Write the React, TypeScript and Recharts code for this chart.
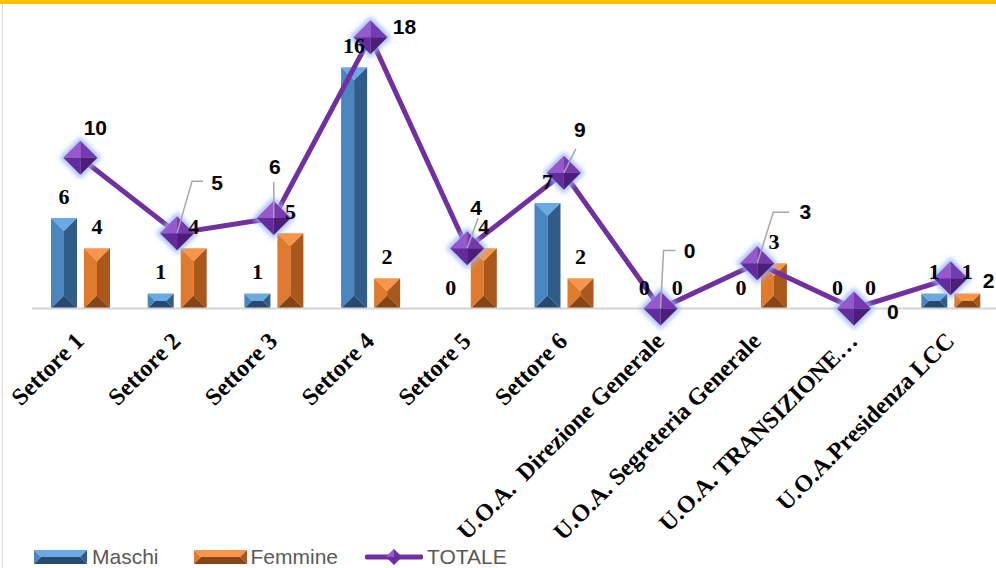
import React from "react";
import { ComposedChart, Bar, Line, XAxis, YAxis, LabelList } from "recharts";

const categories = [
  "Settore 1",
  "Settore 2",
  "Settore 3",
  "Settore 4",
  "Settore 5",
  "Settore 6",
  "U.O.A.  Direzione Generale",
  "U.O.A. Segreteria Generale",
  "U.O.A. TRANSIZIONE…",
  "U.O.A.Presidenza LCC",
];
const maschi = [6, 1, 1, 16, 0, 7, 0, 0, 0, 1];
const femmine = [4, 4, 5, 2, 4, 2, 0, 3, 0, 1];
const totale = [10, 5, 6, 18, 4, 9, 0, 3, 0, 2];
const yTicks = [0, 20];

// where each TOTALE label sits relative to its diamond (+ optional grey leader line)
const totaleLabelPos: { dx: number; dy: number; leader?: number[][] }[] = [
  { dx: 15, dy: -30 },
  { dx: 40, dy: -50, leader: [[0, 0], [15, -52], [26, -52]] },
  { dx: 1, dy: -51, leader: [[0, 0], [0, -36]] },
  { dx: 34, dy: -10 },
  { dx: 9, dy: -40, leader: [[0, 0], [11, -30]] },
  { dx: 16, dy: -43, leader: [[0, 0], [12, -24]] },
  { dx: 29, dy: -58, leader: [[0, 0], [3, -58], [15, -58]] },
  { dx: 48, dy: -51, leader: [[0, 0], [16, -51], [32, -51]] },
  { dx: 39, dy: 3 },
  { dx: 38, dy: 3 },
];

const data = categories.map((name, i) => ({
  name,
  maschi: maschi[i],
  femmine: femmine[i],
  totale: totale[i],
}));

const BLUE = { top: "#6AAAE4", left: "#4A85BF", right: "#2F5C89", bottom: "#25496F" };
const ORANGE = { top: "#F8954A", left: "#E07B2E", right: "#AA571C", bottom: "#874414" };

function bevelFacets(x: number, y: number, w: number, h: number, pal: any) {
  const d = Math.min(w, h) / 2;
  const pts = (arr: number[][]) => arr.map((p) => p.join(",")).join(" ");
  return (
    <g>
      <polygon points={pts([[x, y], [x + w, y], [x + w - d, y + d], [x + d, y + d]])} fill={pal.top} />
      <polygon points={pts([[x, y], [x + d, y + d], [x + d, y + h - d], [x, y + h]])} fill={pal.left} />
      <polygon points={pts([[x + w, y], [x + w - d, y + d], [x + w - d, y + h - d], [x + w, y + h]])} fill={pal.right} />
      <polygon points={pts([[x, y + h], [x + d, y + h - d], [x + w - d, y + h - d], [x + w, y + h]])} fill={pal.bottom} />
    </g>
  );
}

const makeBevelBar = (pal: any) => (props: any) => {
  const { x, y, width, height } = props;
  if (!height || height <= 0) return <g />;
  return bevelFacets(x, y, width, height, pal);
};

const barLabel = (props: any) => {
  const { x, y, width, value } = props;
  return (
    <text
      x={x + width / 2}
      y={y - 14}
      textAnchor="middle"
      fontFamily="'Liberation Serif', serif"
      fontWeight="bold"
      fontSize={22}
      fill="#000"
    >
      {value}
    </text>
  );
};

const DiamondDot = (props: any) => {
  const { cx, cy, index, value } = props;
  if (cx == null || cy == null) return <g />;
  const r = 17;
  const T = [cx, cy - r], R = [cx + r, cy], B = [cx, cy + r], L = [cx - r, cy], C = [cx, cy];
  const pts = (arr: number[][]) => arr.map((p) => p.join(",")).join(" ");
  const pos = totaleLabelPos[index] || { dx: 20, dy: -20 };
  const g = r + 4;
  return (
    <g>
      <polygon
        points={pts([[cx, cy - g], [cx + g, cy], [cx, cy + g], [cx - g, cy]])}
        fill="#96B4F2"
        opacity={0.85}
        filter="url(#diamondGlow)"
      />
      <polygon points={pts([L, T, C])} fill="#9558CD" />
      <polygon points={pts([T, R, C])} fill="#7739B2" />
      <polygon points={pts([R, B, C])} fill="#4D1E77" />
      <polygon points={pts([B, L, C])} fill="#632B9B" />
      {pos.leader && (
        <polyline
          points={pts(pos.leader.map((p) => [cx + p[0], cy + p[1]]))}
          fill="none"
          stroke="#A6A6A6"
          strokeWidth={1.5}
        />
      )}
      <text
        x={cx + pos.dx}
        y={cy + pos.dy}
        dy={7}
        textAnchor="middle"
        fontFamily="'Liberation Sans', Arial, sans-serif"
        fontWeight="bold"
        fontSize={21}
        fill="#000"
      >
        {value}
      </text>
    </g>
  );
};

const AxisTick = (props: any) => {
  const { x, y, payload } = props;
  const px = x + 5;
  const py = y + 34;
  return (
    <text
      x={px}
      y={py}
      transform={`rotate(-45, ${px}, ${py})`}
      textAnchor="end"
      fontFamily="'Liberation Serif', serif"
      fontWeight="bold"
      fontSize={24}
      fill="#000"
      style={{ whiteSpace: "pre" }}
    >
      {payload.value}
    </text>
  );
};

function LegendBevel({ pal }: { pal: any }) {
  return (
    <svg width={53} height={14} style={{ display: "block" }}>
      {bevelFacets(0, 0, 53, 14, pal)}
    </svg>
  );
}

function LegendLine() {
  return (
    <svg width={58} height={16} style={{ display: "block" }}>
      <line x1={2} y1={8} x2={56} y2={8} stroke="#7030A0" strokeWidth={5} strokeLinecap="round" />
      <polygon points="29,0 37,8 29,16 21,8" fill="#6A2DA3" />
      <polygon points="29,0 21,8 29,8" fill="#9558CD" />
    </svg>
  );
}

export default function App() {
  const legendText = {
    fontFamily: "'Liberation Sans', Arial, sans-serif",
    fontSize: 21,
    color: "#595959",
    lineHeight: "21px",
  };
  return (
    <div
      style={{
        position: "fixed",
        left: 0,
        top: 0,
        width: 996,
        height: 568,
        overflow: "hidden",
        background: "#fff",
      }}
    >
      <div style={{ position: "absolute", left: 0, top: 0, width: 996, height: 4, background: "#FFC000" }} />
      <div style={{ position: "absolute", left: 2, top: 4, width: 1, height: 564, background: "#D9D9D9" }} />
      <ComposedChart
        width={1005}
        height={568}
        data={data}
        margin={{ top: 7, right: 6, left: 32, bottom: 0 }}
        barGap={7}
        barSize={26}
      >
        <defs>
          <filter id="diamondGlow" x="-50%" y="-50%" width="200%" height="200%">
            <feGaussianBlur stdDeviation="2.5" />
          </filter>
        </defs>
        <XAxis
          dataKey="name"
          interval={0}
          tickLine={false}
          tickSize={0}
          tickMargin={0}
          height={259.5}
          axisLine={{ stroke: "#D4D4D4", strokeWidth: 2 }}
          tick={<AxisTick />}
        />
        <YAxis hide domain={[0, 20]} ticks={yTicks} />
        <Bar dataKey="maschi" name="Maschi" shape={makeBevelBar(BLUE)} isAnimationActive={false}>
          <LabelList dataKey="maschi" content={barLabel} />
        </Bar>
        <Bar dataKey="femmine" name="Femmine" shape={makeBevelBar(ORANGE)} isAnimationActive={false}>
          <LabelList dataKey="femmine" content={barLabel} />
        </Bar>
        <Line
          dataKey="totale"
          name="TOTALE"
          type="linear"
          stroke="#7030A0"
          strokeWidth={5}
          dot={<DiamondDot />}
          activeDot={false}
          isAnimationActive={false}
        />
      </ComposedChart>
      <div
        style={{
          position: "absolute",
          left: 34,
          top: 546,
          display: "flex",
          alignItems: "center",
        }}
      >
        <LegendBevel pal={BLUE} />
        <span style={{ ...legendText, marginLeft: 5, marginRight: 35 }}>Maschi</span>
        <LegendBevel pal={ORANGE} />
        <span style={{ ...legendText, marginLeft: 4, marginRight: 27 }}>Femmine</span>
        <LegendLine />
        <span style={{ ...legendText, marginLeft: 4 }}>TOTALE</span>
      </div>
    </div>
  );
}
